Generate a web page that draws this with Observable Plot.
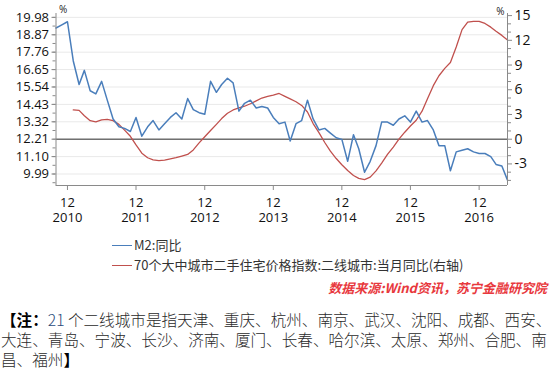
<!DOCTYPE html>
<html>
<head>
<meta charset="utf-8">
<script src="https://cdn.jsdelivr.net/npm/d3@7"></script>
<script src="https://cdn.jsdelivr.net/npm/@observablehq/plot@0.6"></script>
<style>
  html, body { margin: 0; padding: 0; background: #fff; }
  #wrap { position: relative; width: 560px; height: 369px; overflow: hidden; font-family: "Open Sans", "Noto Sans CJK SC", sans-serif; }
  #chart { position: absolute; left: 0; top: 0; }
  .leg { position: absolute; left: 112px; font-size: 13px; color: #333; white-space: nowrap; font-family: "Noto Sans CJK SC", sans-serif; line-height: 16px; }
  .leg .sw { display: inline-block; width: 20px; height: 0; border-top: 1.5px solid; vertical-align: middle; margin-right: 2px; position: relative; top: -1px; }
  #src { position: absolute; right: 13px; top: 279px; font-size: 13px; font-style: italic; font-weight: bold; color: #e8383d; font-family: "Noto Sans CJK SC", sans-serif; line-height: 18px; white-space: nowrap; }
  #note { position: absolute; left: 1px; top: 308.5px; width: 558px; font-size: 15.6px; line-height: 20.2px; color: #2a2a2a; font-family: "Noto Sans CJK SC", sans-serif; font-weight: 300; }
  #note b { font-weight: 700; color: #000; }
  #note .n { color: #2b4a7a; }
</style>
</head>
<body>
<div id="wrap">
  <div id="chart"></div>
  <div class="leg" style="top:237px"><span class="sw" style="border-color:#4a7ebb"></span>M2:同比</div>
  <div class="leg" style="top:257px"><span class="sw" style="border-color:#c0504d"></span>70个大中城市二手住宅价格指数:二线城市:当月同比(右轴)</div>
  <div id="src">数据来源:Wind资讯，苏宁金融研究院</div>
  <div id="note"><b>【注：</b><span class="n">21</span> 个二线城市是指天津、重庆、杭州、南京、武汉、沈阳、成都、西安、大连、青岛、宁波、长沙、济南、厦门、长春、哈尔滨、太原、郑州、合肥、南昌、福州<b>】</b></div>
</div>
<script>
// ---- data ----
const startYear = 2010, startMonth = 10;           // first month of M2 series (Oct 2010)
const m2Values = [
  19.3, 19.5, 19.7,
  17.2, 15.7, 16.6, 15.3, 15.1, 15.9, 14.7, 13.5, 13.0, 12.9, 12.7, 13.6,
  12.4, 13.0, 13.4, 12.8, 13.2, 13.6, 13.9, 13.5, 14.8, 14.1, 13.9, 13.8,
  15.9, 15.2, 15.7, 16.1, 15.8, 14.0, 14.5, 14.7, 14.2, 14.3, 14.2, 13.6,
  13.2, 13.3, 12.1, 13.2, 13.4, 14.7, 13.5, 12.8, 12.9, 12.6, 12.3, 12.2,
  10.8, 12.5, 11.6, 10.1, 10.8, 11.8, 13.3, 13.3, 13.1, 13.5, 13.7, 13.3,
  14.0, 13.3, 13.4, 12.8, 11.8, 11.8, 10.2, 11.4, 11.5, 11.6, 11.4, 11.3,
  11.3, 11.1, 10.6, 10.5, 9.6
];
const priceStartYear = 2011, priceStartMonth = 1;   // first month of price series (Jan 2011)
const priceValues = [
  3.56, 3.5, 2.85, 2.25, 2.1, 2.35, 2.4, 2.25, 1.8, 1.1, 0.35, -0.7,
  -1.7, -2.25, -2.5, -2.6, -2.55, -2.4, -2.25, -2.05, -1.85, -1.3, -0.45, 0.3,
  1.05, 1.8, 2.5, 3.15, 3.55, 3.8, 4.0, 4.3, 4.65, 5.0, 5.2, 5.35,
  5.55, 5.2, 4.9, 4.55, 4.1, 3.3, 1.9, 0.8, -0.4, -1.45, -2.35, -3.1,
  -3.8, -4.4, -4.75, -4.9, -4.6, -3.85, -2.9, -1.85, -0.95, 0.0, 0.85, 1.6,
  2.3, 3.4, 4.9, 6.5, 7.7, 8.6, 9.3, 11.2, 13.3, 14.2, 14.3, 14.3,
  14.05, 13.6, 13.1, 12.6, 12.05
];
const tickYears = [2010, 2011, 2012, 2013, 2014, 2015, 2016];
const leftTicks = [9.99, 11.10, 12.21, 13.32, 14.43, 15.54, 16.65, 17.76, 18.87, 19.98];
const rightTicks = [-3, 0, 3, 6, 9, 12, 15];
const series = ["M2:同比", "70个大中城市二手住宅价格指数:二线城市:当月同比(右轴)"];
const colors = ["#4a7ebb", "#c0504d"];

// ---- scale helpers ----
const zeroLeft = 12.21;     // left-axis value aligned with right-axis 0
const k = 0.5255;           // left units per right unit
const toLeft = r => zeroLeft + r * k;
const month = (y, m, i) => new Date(Date.UTC(y, m - 1 + i, 1));

const m2Data = m2Values.map((v, i) => ({date: month(startYear, startMonth, i), v}));
const priceData = priceValues.map((v, i) => ({date: month(priceStartYear, priceStartMonth, i), v: toLeft(v)}));

const xDomain = [m2Data[0].date, m2Data[m2Data.length - 1].date];
const yDomain = [9.257, 20.227];

const decDates = tickYears.map(y => new Date(Date.UTC(y, 11, 1)));
const minorX = d3.utcMonth.every(3).range(xDomain[0], new Date(+xDomain[1] + 1))
  .filter(d => d.getUTCMonth() % 3 === 2);
const leftMinor = d3.range(0, 21).map(i => 9.435 + i * 0.555).filter(v => v <= yDomain[1]);
const rightMinor = d3.range(-5, 16).filter(v => v % 3 !== 0).map(toLeft);

const axisColor = "#8a8a8a";

const chart = Plot.plot({
  width: 560,
  height: 232,
  marginLeft: 55.5,
  marginRight: 53,
  marginTop: 13,
  marginBottom: 47,
  x: {type: "utc", domain: xDomain},
  y: {domain: yDomain},
  style: {fontFamily: "'Open Sans', sans-serif", fontSize: "13px", color: "#111", background: "transparent", overflow: "visible"},
  marks: [
    Plot.gridY(leftTicks, {stroke: "#e9e9e9", strokeOpacity: 1}),
    Plot.ruleY([zeroLeft], {stroke: "#707070", strokeWidth: 1.6}),
    Plot.lineY(priceData, {x: "date", y: "v", stroke: colors[1], strokeWidth: 1.3}),
    Plot.lineY(m2Data, {x: "date", y: "v", stroke: colors[0], strokeWidth: 1.5}),
    Plot.ruleX([xDomain[0], xDomain[1]], {stroke: axisColor}),
    Plot.ruleY([yDomain[0]], {stroke: axisColor}),
    Plot.axisY(leftTicks, {anchor: "left", tickSize: 4, tickPadding: 3, stroke: axisColor, tickFormat: d => d.toFixed(2), label: null, fontSize: 13}),
    Plot.axisY(leftMinor, {anchor: "left", tickSize: 3, stroke: axisColor, tickFormat: () => "", label: null}),
    Plot.axisY(rightTicks.map(toLeft), {anchor: "right", tickSize: 4, tickPadding: 3, stroke: axisColor, tickFormat: v => String(Math.round((v - zeroLeft) / k)), label: null, fontSize: 14}),
    Plot.axisY(rightMinor, {anchor: "right", tickSize: 3, stroke: axisColor, tickFormat: () => "", label: null}),
    Plot.axisX(minorX, {tickSize: 3, stroke: axisColor, tickFormat: () => "", label: null}),
    Plot.axisX(decDates, {tickSize: 5, tickPadding: 7, stroke: axisColor, tickFormat: () => "12", label: null, fontSize: 13}),
    Plot.axisX(decDates, {tickSize: 0, tickPadding: 27, tickFormat: d => String(d.getUTCFullYear()), label: null, fontSize: 13}),
    Plot.text(["%"], {frameAnchor: "top-left", dx: 3, dy: -8, fontSize: 10, fill: "#222"}),
    Plot.text(["%"], {frameAnchor: "top-right", dx: -3, dy: -6, fontSize: 10, fill: "#222", textAnchor: "end"})
  ]
});
document.getElementById("chart").appendChild(chart);
</script>
</body>
</html>
